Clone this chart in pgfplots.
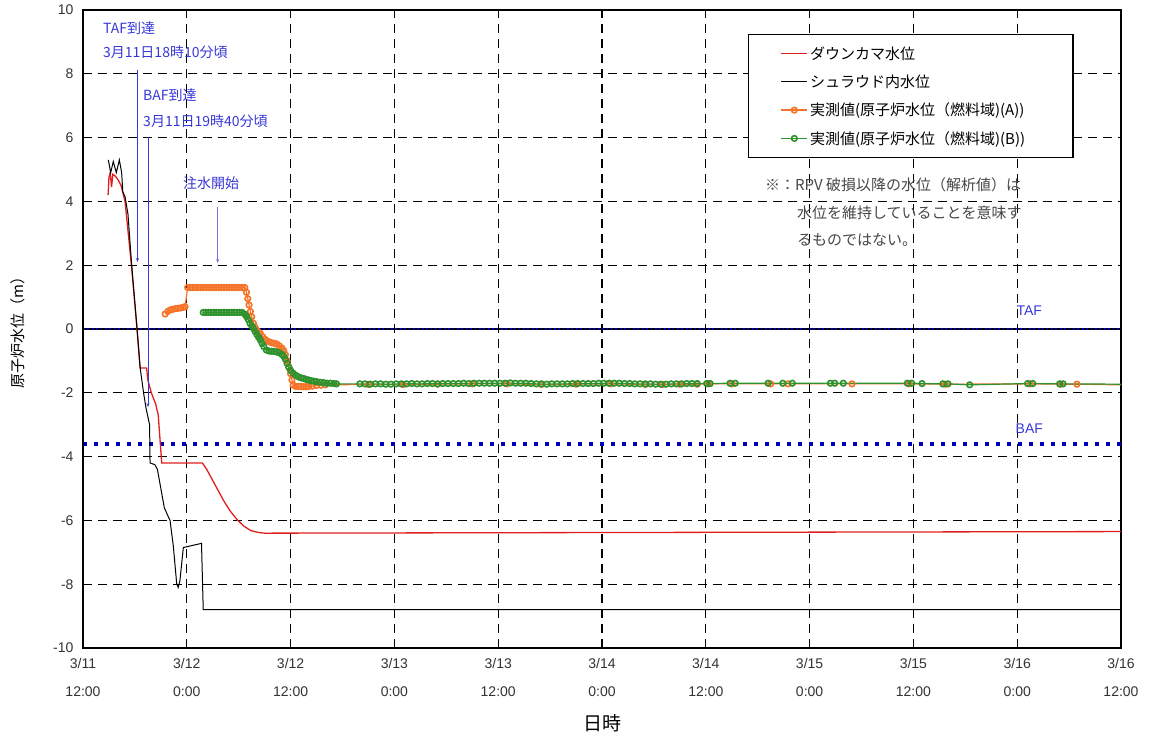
\documentclass[border=0pt]{standalone}
\usepackage{pgfplots}
\pgfplotsset{compat=1.18}
\usepackage{fontspec}
\setmainfont{Liberation Sans}
\newfontfamily\jp{Noto Sans CJK JP}
\usetikzlibrary{arrows.meta}
\definecolor{cRed}{RGB}{225,30,30}
\definecolor{cOrange}{RGB}{245,115,40}
\definecolor{cGreen}{RGB}{45,145,45}
\definecolor{cBlue}{RGB}{55,55,215}
\definecolor{cNavy}{RGB}{0,0,185}
\definecolor{cNote}{RGB}{70,70,70}
\newcommand\xs{\rule{0pt}{17pt}}
\begin{document}
\begin{tikzpicture}
\begin{axis}[
  name=ax, scale only axis, width=1038pt, height=638pt,
  xmin=0, xmax=120, ymin=-10, ymax=10,
  xtick={0,12,...,120}, ytick={-10,-8,...,10},
  xticklabels={{\xs 3/11\\12:00},{\xs 3/12\\0:00},{\xs 3/12\\12:00},{\xs 3/13\\0:00},{\xs 3/13\\12:00},{\xs 3/14\\0:00},{\xs 3/14\\12:00},{\xs 3/15\\0:00},{\xs 3/15\\12:00},{\xs 3/16\\0:00},{\xs 3/16\\12:00}},
  xticklabel style={align=center, font=\fontsize{14}{28}\selectfont, color=black!80},
  yticklabel style={font=\fontsize{14}{16}\selectfont, color=black!80, xshift=-6pt},
  /pgf/number format/assume math mode=true,
  grid=major,
  major grid style={black, line width=1.3pt, dash pattern=on 9pt off 6pt},
  major tick length=0pt,
  axis line style={line width=1.3pt},
  xlabel={{\jp 日時}},
  xlabel style={at={(axis description cs:0.5,-0.1176)}, anchor=center, font=\fontsize{19}{22}\selectfont},
  ylabel={{\jp 原子炉水位（m）}},
  ylabel style={at={(axis description cs:-0.0626,0.5)}, anchor=center, font=\fontsize{15}{18}\selectfont},
  clip=false,
  legend image code/.code={\path (-22pt,0pt); \draw[mark repeat=2,mark phase=2,#1] plot coordinates {(0pt,0pt) (13pt,0pt) (26pt,0pt)};},
  legend style={at={(axis description cs:0.6407,0.9624)}, anchor=north west, draw=black, line width=1.3pt, fill=white,
    font=\jp\fontsize{15}{18}\selectfont, inner xsep=10pt, inner ysep=10pt, row sep=10pt, nodes={inner sep=2pt}},
  legend cell align=left,
]
% TAF / BAF reference lines
\addplot[black, line width=1.2pt, forget plot] coordinates {(0,0) (120,0)};
\addplot[cNavy, line width=1.8pt, dash pattern=on 1.8pt off 2.6pt, forget plot] coordinates {(0,0) (120,0)};
\addplot[cNavy, line width=3.5pt, dash pattern=on 3.5pt off 7.5pt, forget plot] coordinates {(0,-3.6) (120,-3.6)};

% Downcomer water level
\addplot[draw=cRed, color=cRed, line width=1.3pt] coordinates {
(2.9,4.2) (3.0,4.75) (3.15,4.9) (3.3,4.45) (3.45,4.85) (3.7,4.8) (4.0,4.7) (4.4,4.5) (4.86,4.0)
(5.6,2.0) (6.25,0) (6.6,-1.22) (7.35,-1.22) (7.5,-1.6) (7.9,-2.0) (8.4,-2.35) (8.7,-2.7) (9.1,-4.2)
(13.8,-4.2) (14.3,-4.4) (14.9,-4.7) (15.6,-5.05) (16.3,-5.4) (17.0,-5.7) (17.8,-5.97) (18.6,-6.18)
(19.4,-6.32) (20.3,-6.38) (21,-6.4) (120,-6.35)};
\addlegendentry{\makebox[251pt][l]{ダウンカマ水位}}

% Shroud water level
\addplot[black, line width=1pt] coordinates {
(2.93,5.3) (3.2,4.9) (3.5,5.25) (3.85,4.9) (4.2,5.3) (4.47,4.9) (4.6,4.3) (4.86,4.15) (5.2,3.6)
(5.6,2.1) (6.25,0) (6.6,-1.2) (7.0,-2.0) (7.3,-2.5) (7.7,-3.0) (7.75,-4.2) (8.3,-4.25) (8.6,-4.4)
(9.0,-5.0) (9.4,-5.6) (9.8,-5.85) (10.06,-6.0) (10.44,-6.8) (10.83,-7.98) (11.0,-8.1) (11.2,-7.9)
(11.6,-6.85) (13.7,-6.72) (13.9,-8.8) (120,-8.8)};
\addlegendentry{シュラウド内水位}

% Measured A
\addplot[cOrange, line width=1.2pt, mark=o, mark size=2.8pt, mark options={fill=white, line width=1.6pt, solid}] coordinates {
(9.5,0.47) (9.8,0.55) (10.1,0.6) (10.4,0.62) (10.7,0.64) (11.0,0.65) (11.3,0.66) (11.6,0.68) (11.8,0.7)
(12.1,1.3) (12.4,1.3) (12.7,1.3) (13.0,1.3) (13.3,1.3) (13.6,1.3) (13.9,1.3) (14.2,1.3) (14.5,1.3)
(14.8,1.3) (15.1,1.3) (15.4,1.3) (15.7,1.3) (16.0,1.3) (16.3,1.3) (16.6,1.3) (16.9,1.3) (17.2,1.3)
(17.5,1.3) (17.8,1.3) (18.1,1.3) (18.4,1.3) (18.7,1.3)
(18.9,1.15) (19.05,0.95) (19.2,0.75) (19.35,0.55) (19.5,0.38) (19.7,0.18) (19.9,0.05) (20.1,-0.05)
(20.3,-0.1) (20.5,-0.14) (20.8,-0.25) (21.0,-0.32) (21.2,-0.36) (21.5,-0.4) (21.8,-0.43) (22.1,-0.45)
(22.4,-0.47) (22.7,-0.53) (23.0,-0.6) (23.2,-0.68) (23.4,-0.8) (23.6,-1.0) (23.8,-1.2) (24.0,-1.4)
(24.15,-1.6) (24.3,-1.76) (24.6,-1.8) (24.9,-1.8) (25.2,-1.8) (25.5,-1.81) (25.8,-1.81) (26.1,-1.8)
(26.5,-1.79) (27.0,-1.77) (27.5,-1.76) (28.0,-1.75)
(33,-1.74) (37,-1.74) (41,-1.73) (45,-1.72) (49,-1.72) (53,-1.74) (57,-1.73) (61,-1.72)
(65,-1.74) (67,-1.74) (69,-1.73) (71,-1.73)
(72.3,-1.72) (75.0,-1.72) (79.5,-1.72) (81.5,-1.72) (88.9,-1.72) (95.5,-1.72) (99.7,-1.73)
(109.5,-1.72) (113.0,-1.73) (114.9,-1.73)};
\addlegendentry{実測値(原子炉水位（燃料域)(A))}
\addplot[cOrange, line width=1.2pt, forget plot] coordinates {(114.9,-1.73) (120,-1.75)};

% Measured B
\addplot[cGreen, line width=1.2pt, mark=o, mark size=2.8pt, mark options={fill=white, line width=1.6pt, solid}] coordinates {
(13.9,0.52) (14.2,0.52) (14.5,0.52) (14.8,0.52) (15.1,0.52) (15.4,0.52) (15.7,0.52) (16.0,0.52)
(16.3,0.52) (16.6,0.52) (16.9,0.52) (17.2,0.52) (17.5,0.52) (17.8,0.52) (18.1,0.52) (18.4,0.52)
(18.7,0.47) (18.9,0.39) (19.1,0.3) (19.3,0.18) (19.5,0.1) (19.7,0.02) (19.9,-0.08) (20.1,-0.17)
(20.3,-0.26) (20.5,-0.34) (20.7,-0.45) (20.9,-0.55) (21.2,-0.66) (21.5,-0.69) (21.8,-0.7) (22.1,-0.7)
(22.4,-0.72) (22.7,-0.75) (23.0,-0.8) (23.2,-0.85) (23.4,-0.95) (23.6,-1.08) (23.8,-1.2) (24.0,-1.3)
(24.3,-1.39) (24.6,-1.45) (24.9,-1.5) (25.2,-1.53) (25.5,-1.55) (25.8,-1.58) (26.1,-1.6) (26.4,-1.62)
(26.7,-1.64) (27.0,-1.65) (27.4,-1.67) (27.8,-1.68) (28.2,-1.7) (28.6,-1.7) (29.0,-1.71) (29.3,-1.72)
(32.0,-1.72) (32.6,-1.72) (33.2,-1.73) (33.8,-1.72) (34.4,-1.72) (35.0,-1.73) (35.6,-1.73) (36.2,-1.72)
(36.8,-1.72) (37.4,-1.72) (38.0,-1.71) (38.6,-1.72) (39.2,-1.72) (39.8,-1.71) (40.4,-1.71) (41.0,-1.72)
(41.6,-1.71) (42.2,-1.71) (42.8,-1.71) (43.4,-1.71) (44.0,-1.70) (44.6,-1.71) (45.2,-1.70) (45.8,-1.70)
(46.4,-1.70) (47.0,-1.70) (47.6,-1.70) (48.2,-1.70) (48.8,-1.70) (49.4,-1.69) (50.0,-1.70) (50.6,-1.70)
(51.2,-1.70) (51.8,-1.71) (52.4,-1.72) (53.0,-1.72) (53.6,-1.73) (54.2,-1.72) (54.8,-1.72) (55.4,-1.72)
(56.0,-1.72) (56.6,-1.71) (57.2,-1.71) (57.8,-1.71) (58.4,-1.71) (59.0,-1.71) (59.6,-1.70) (60.2,-1.70)
(60.8,-1.70) (61.4,-1.70) (62.0,-1.70) (62.6,-1.71) (63.2,-1.71) (63.8,-1.72) (64.4,-1.72) (65.0,-1.72)
(65.6,-1.72) (66.2,-1.73) (66.8,-1.73) (67.4,-1.73) (68.0,-1.72) (68.6,-1.72) (69.2,-1.72) (69.8,-1.71)
(70.4,-1.71) (71.0,-1.71)
(72.1,-1.71) (72.5,-1.71) (74.8,-1.70) (75.4,-1.70) (79.2,-1.70) (80.9,-1.70) (82.0,-1.70)
(86.4,-1.70) (86.9,-1.70) (87.9,-1.70) (95.3,-1.70) (95.8,-1.70) (97.0,-1.71) (99.4,-1.72)
(100.0,-1.72) (102.5,-1.75) (109.2,-1.71) (109.8,-1.71) (112.9,-1.72) (113.3,-1.72)};
\addlegendentry{実測値(原子炉水位（燃料域)(B))}
\addplot[cGreen, line width=1.2pt, forget plot] coordinates {(113.3,-1.72) (120,-1.73)};

% thick left / bottom axis lines
\draw[black, line width=2.4pt] (rel axis cs:0,1) -- (rel axis cs:0,0) -- (rel axis cs:1,0);

% annotations
\node[anchor=west, inner sep=0pt, text=cBlue, font=\jp\fontsize{14}{16}\selectfont] at (axis cs:2.31,9.44) {TAF到達};
\node[anchor=west, inner sep=0pt, text=cBlue, font=\jp\fontsize{14}{16}\selectfont] at (axis cs:2.31,8.68) {3月11日18時10分頃};
\draw[cBlue, line width=0.9pt, -{Stealth[length=4pt,width=3pt]}] (axis cs:6.3,8.12) -- (axis cs:6.3,2.1);
\node[anchor=west, inner sep=0pt, text=cBlue, font=\jp\fontsize{14}{16}\selectfont] at (axis cs:6.94,7.34) {BAF到達};
\node[anchor=west, inner sep=0pt, text=cBlue, font=\jp\fontsize{14}{16}\selectfont] at (axis cs:6.94,6.52) {3月11日19時40分頃};
\draw[cBlue, line width=0.9pt, -{Stealth[length=4pt,width=3pt]}] (axis cs:7.51,6.02) -- (axis cs:7.51,-2.45);
\node[anchor=west, inner sep=0pt, text=cBlue, font=\jp\fontsize{14}{16}\selectfont] at (axis cs:11.56,4.58) {注水開始};
\draw[cBlue!70, line width=0.8pt, -{Stealth[length=4pt,width=3pt]}] (axis cs:15.57,3.82) -- (axis cs:15.57,2.07);
\node[anchor=center, inner sep=0pt, text=cBlue, font=\fontsize{14}{16}\selectfont] at (axis cs:109.4,0.56) {TAF};
\node[anchor=center, inner sep=0pt, text=cBlue, font=\fontsize{14}{16}\selectfont] at (axis cs:109.4,-3.13) {BAF};
\node[anchor=west, inner sep=0pt, text=cNote, font=\jp\fontsize{15}{18}\selectfont] at (axis cs:78.84,4.51) {※：RPV 破損以降の水位（解析値）は};
\node[anchor=west, inner sep=0pt, text=cNote, font=\jp\fontsize{15}{18}\selectfont] at (axis cs:82.54,3.64) {水位を維持していることを意味す};
\node[anchor=west, inner sep=0pt, text=cNote, font=\jp\fontsize{15}{18}\selectfont] at (axis cs:82.54,2.79) {るものではない。};
\end{axis}
\pgfresetboundingbox
\path ([shift={(-83pt,-87pt)}]ax.south west) rectangle ([shift={(29pt,10pt)}]ax.north east);
\end{tikzpicture}
\end{document}
